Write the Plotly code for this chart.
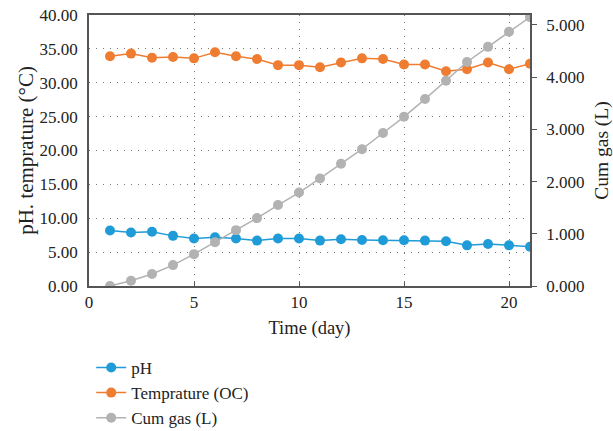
import plotly.graph_objects as go

days = list(range(1, 22))
ph = [8.2, 7.9, 8.0, 7.4, 7.0, 7.2, 7.0, 6.7, 7.0, 7.0, 6.7, 6.9, 6.8, 6.75, 6.75, 6.7, 6.6, 6.0, 6.2, 6.0, 5.8]
temp = [33.9, 34.3, 33.7, 33.8, 33.6, 34.5, 33.9, 33.5, 32.6, 32.6, 32.3, 33.0, 33.6, 33.5, 32.7, 32.7, 31.7, 32.0, 33.0, 32.0, 32.8]
gas = [0.0, 0.1, 0.23, 0.40, 0.61, 0.84, 1.07, 1.30, 1.55, 1.79, 2.06, 2.34, 2.62, 2.93, 3.24, 3.58, 3.93, 4.29, 4.58, 4.87, 5.15]

FONT = "Liberation Serif"
TXT = "#222222"
GRID = "#777777"
DASH = "1px,6px"

fig = go.Figure()
fig.add_trace(go.Scatter(x=days, y=ph, name="pH", mode="lines+markers",
                         line=dict(color="#1f9cd8", width=1.5),
                         marker=dict(color="#1f9cd8", size=10)))
fig.add_trace(go.Scatter(x=days, y=temp, name="Temprature (OC)", mode="lines+markers",
                         line=dict(color="#ef7d31", width=1.5),
                         marker=dict(color="#ef7d31", size=10)))
fig.add_trace(go.Scatter(x=days, y=gas, name="Cum gas (L)", mode="lines+markers", yaxis="y2",
                         line=dict(color="#b2b2b2", width=1.5),
                         marker=dict(color="#b2b2b2", size=10)))

tick_font = dict(family=FONT, size=17, color=TXT)

fig.update_layout(
    width=613, height=431,
    margin=dict(l=89, r=83, t=15, b=145, autoexpand=False),
    paper_bgcolor="white", plot_bgcolor="white",
    font=dict(family=FONT, size=17, color=TXT),
    showlegend=True,
    legend=dict(x=0.005, y=-0.236, xanchor="left", yanchor="top",
                font=dict(family=FONT, size=17, color=TXT),
                bgcolor="rgba(0,0,0,0)", tracegroupgap=0),
    xaxis=dict(range=[0, 21], tickvals=[0, 5, 10, 15, 20], ticks="inside", ticklen=4,
               tickcolor="#555", showline=True, linecolor="#555", linewidth=1.5, mirror=True,
               showgrid=True, gridcolor=GRID, griddash=DASH, gridwidth=1,
               zeroline=False, automargin=False,
               title=dict(text="Time (day)", standoff=10,
                          font=dict(family=FONT, size=18.5, color=TXT)),
               tickfont=tick_font),
    yaxis=dict(range=[0, 40], dtick=5, tickformat=".2f", showline=True, linecolor="#555",
               linewidth=1.5, showgrid=True, gridcolor=GRID, griddash=DASH, gridwidth=1,
               zeroline=False, ticks="", automargin=False, ticklabelstandoff=6,
               title=dict(text="pH. temprature (°C)", standoff=0,
                          font=dict(family=FONT, size=21, color=TXT)),
               tickfont=tick_font),
    yaxis2=dict(range=[0, 5.19], dtick=1, tickformat=".3f", overlaying="y", side="right",
                showline=True, linecolor="#555", linewidth=1.5, showgrid=False, zeroline=False,
                ticks="outside", ticklen=5, tickcolor="#555", automargin=False,
                ticklabelstandoff=6,
                title=dict(text="Cum gas (L)", standoff=16,
                           font=dict(family=FONT, size=19.5, color=TXT)),
                tickfont=tick_font),
)

fig.write_html("out.html")
